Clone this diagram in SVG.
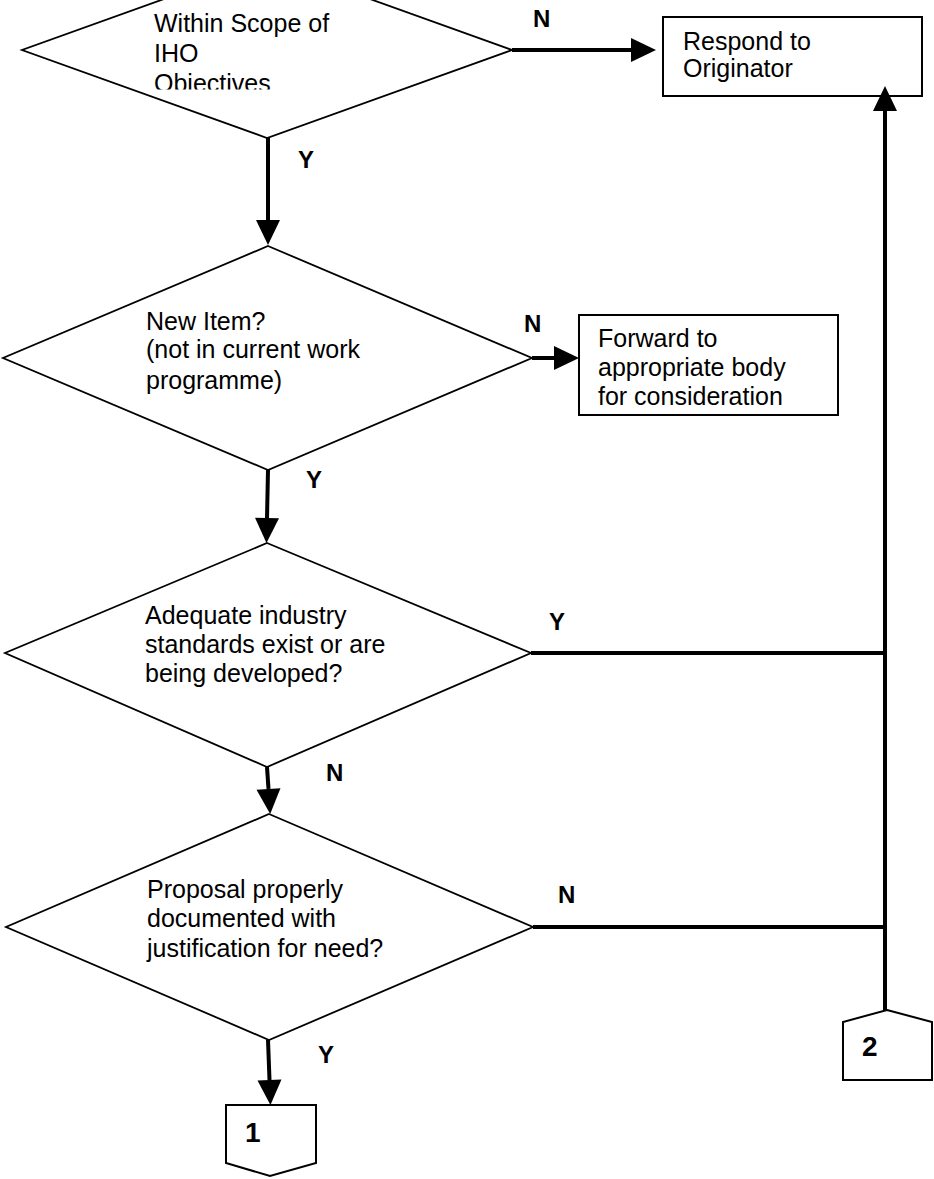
<svg xmlns="http://www.w3.org/2000/svg" width="934" height="1179" viewBox="0 0 934 1179">
<style>
.shape{fill:#fff;stroke:#000;stroke-width:1.8}
.box{fill:#fff;stroke:#000;stroke-width:2}
.t{font-family:"Liberation Sans",Arial,sans-serif;font-size:25px;fill:#000}
.lbl{font-family:"Liberation Sans",Arial,sans-serif;font-size:24px;font-weight:bold;fill:#000}
.num{font-family:"Liberation Sans",Arial,sans-serif;font-size:28px;font-weight:bold;fill:#000}
.c{fill:none;stroke:#000;stroke-width:4}
</style>
<defs>
<marker id="ah" markerUnits="userSpaceOnUse" markerWidth="26" markerHeight="26" refX="0" refY="12" orient="auto" overflow="visible">
<path d="M0,0 L25,12 L0,24 z" fill="#000"/>
</marker>
<clipPath id="clip1"><rect x="0" y="0" width="520" height="89.5"/></clipPath>
</defs>
<rect width="934" height="1179" fill="#fff"/>
<g id="d1">
<polygon class="shape" points="267,-38 512,50 267,138 22,50"/>
<g clip-path="url(#clip1)">
<text class="t" x="154" y="32">Within Scope of</text>
<text class="t" x="154" y="62">IHO</text>
<text class="t" x="154" y="92">Objectives</text>
</g>
</g>
<g id="b1">
<rect class="box" x="663" y="17" width="259" height="79"/>
<text class="t" x="683" y="50">Respond to</text>
<text class="t" x="683" y="77">Originator</text>
</g>
<g id="d2">
<polygon class="shape" points="268,246 532,358 268,470 3,358"/>
<text class="t" x="146" y="330">New Item?</text>
<text class="t" x="146" y="358">(not in current work</text>
<text class="t" x="146" y="389">programme)</text>
</g>
<g id="b2">
<rect class="box" x="579" y="315" width="259" height="100"/>
<text class="t" x="598" y="347">Forward to</text>
<text class="t" x="598" y="376">appropriate body</text>
<text class="t" x="598" y="405">for consideration</text>
</g>
<g id="d3">
<polygon class="shape" points="267,543 531,653 267,767 5,653"/>
<text class="t" x="145" y="624">Adequate industry</text>
<text class="t" x="145" y="653">standards exist or are</text>
<text class="t" x="145" y="682">being developed?</text>
</g>
<g id="d4">
<polygon class="shape" points="269,814 533,927 269,1040 6,927"/>
<text class="t" x="147" y="898">Proposal properly</text>
<text class="t" x="147" y="927">documented with</text>
<text class="t" x="147" y="957">justification for need?</text>
</g>
<g id="p1">
<polygon class="box" points="226,1105 316,1105 316,1163 270,1176 226,1163"/>
<text class="num" x="245" y="1142">1</text>
</g>
<g id="p2">
<polygon class="box" points="887,1010 932,1022 932,1080 843,1080 843,1022"/>
<text class="num" x="862" y="1056">2</text>
</g>
<g id="connectors">
<path class="c" d="M512,50 L631,50" marker-end="url(#ah)"/>
<path class="c" d="M268,138 L268,220" marker-end="url(#ah)"/>
<path class="c" d="M532,358 L554,358" marker-end="url(#ah)"/>
<path class="c" d="M268,470 L267,518" marker-end="url(#ah)"/>
<path class="c" d="M531,653 L885,653"/>
<path class="c" d="M267,767 L268.5,789" marker-end="url(#ah)"/>
<path class="c" d="M533,927 L885,927"/>
<path class="c" d="M268,1040 L269.5,1080" marker-end="url(#ah)"/>
<path class="c" d="M885,1010 L885,111" marker-end="url(#ah)"/>
<text class="lbl" x="533" y="27">N</text>
<text class="lbl" x="298" y="168">Y</text>
<text class="lbl" x="524" y="332">N</text>
<text class="lbl" x="306" y="488">Y</text>
<text class="lbl" x="549" y="630">Y</text>
<text class="lbl" x="326" y="781">N</text>
<text class="lbl" x="558" y="903">N</text>
<text class="lbl" x="318" y="1063">Y</text>
</g>
</svg>
